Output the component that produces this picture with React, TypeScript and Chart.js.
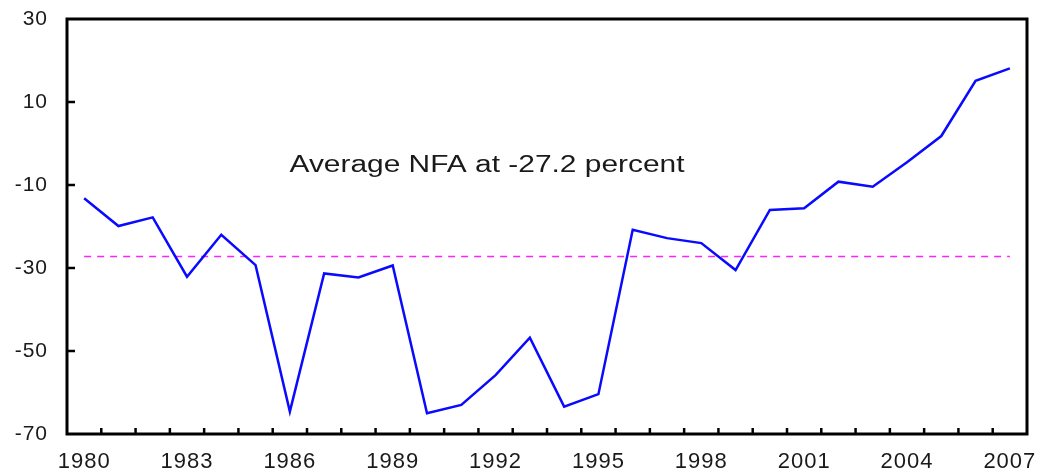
import React, { useEffect, useRef } from 'react';
import { Chart, registerables } from 'chart.js';

Chart.register(...registerables);

const YEARS = [
  '1980', '1981', '1982', '1983', '1984', '1985', '1986', '1987', '1988', '1989',
  '1990', '1991', '1992', '1993', '1994', '1995', '1996', '1997', '1998', '1999',
  '2000', '2001', '2002', '2003', '2004', '2005', '2006', '2007',
];

const NFA = [
  -13.2, -19.9, -17.8, -32.1, -22.0, -29.3, -64.6, -31.3, -32.3, -29.4,
  -65.0, -63.0, -55.8, -46.8, -63.4, -60.4, -20.8, -22.8, -24.0, -30.5,
  -16.0, -15.6, -9.2, -10.4, -4.5, 1.8, 15.1, 18.1,
];

const AVG_NFA = -27.2;
const Y_TICKS = [-70, -50, -30, -10, 10, 30];
const ANNOTATION_TEXT = 'Average NFA at -27.2 percent';
const ANNOTATION_X_INDEX = 11.75;
const ANNOTATION_Y_VALUE = -6.9;

const FONT = '"Liberation Sans", Arial, sans-serif';
const TEXT_COLOR = '#1a1a1a';

const framePlugin = {
  id: 'frameAndAnnotation',
  beforeDraw(chart: any) {
    (chart.ctx as any).letterSpacing = '1px';
  },
  afterDatasetsDraw(chart: any) {
    const { ctx, scales } = chart;
    const cx = scales.x.getPixelForValue(ANNOTATION_X_INDEX);
    const cy = scales.y.getPixelForValue(ANNOTATION_Y_VALUE);
    ctx.save();
    (ctx as any).letterSpacing = '0px';
    ctx.font = `23px ${FONT}`;
    ctx.fillStyle = TEXT_COLOR;
    ctx.textAlign = 'center';
    ctx.textBaseline = 'alphabetic';
    ctx.translate(cx, cy);
    ctx.scale(1.3, 1);
    ctx.fillText(ANNOTATION_TEXT, 0, 0);
    ctx.restore();
  },
  afterDraw(chart: any) {
    const { ctx, chartArea, scales } = chart;
    const { left, top, right, bottom } = chartArea;
    ctx.save();
    (ctx as any).letterSpacing = '0px';
    ctx.strokeStyle = '#000';
    ctx.lineWidth = 2.5;
    ctx.beginPath();
    for (let i = 1; i < YEARS.length; i++) {
      const px = scales.x.getPixelForValue(i - 0.5);
      ctx.moveTo(px, bottom);
      ctx.lineTo(px, bottom - 6);
    }
    for (const v of Y_TICKS) {
      if (v <= scales.y.min || v >= scales.y.max) continue;
      const py = scales.y.getPixelForValue(v);
      ctx.moveTo(left, py);
      ctx.lineTo(left + 8, py);
    }
    ctx.stroke();
    ctx.lineWidth = 3;
    ctx.strokeRect(left, top, right - left, bottom - top);
    ctx.restore();
    (ctx as any).letterSpacing = '0px';
  },
};

export default function App() {
  const canvasRef = useRef<HTMLCanvasElement | null>(null);

  useEffect(() => {
    if (!canvasRef.current) return;
    const chart = new Chart(canvasRef.current, {
      type: 'line',
      data: {
        labels: YEARS,
        datasets: [
          {
            label: 'NFA',
            data: NFA,
            borderColor: '#0a0aff',
            borderWidth: 2.5,
            pointRadius: 0,
            tension: 0,
            fill: false,
          },
          {
            label: 'Average',
            data: YEARS.map(() => AVG_NFA),
            borderColor: '#ff22ff',
            borderWidth: 1.5,
            borderDash: [7, 6],
            pointRadius: 0,
            fill: false,
          },
        ],
      },
      options: {
        animation: false,
        responsive: false,
        layout: { padding: { left: 0, top: 19, right: 14, bottom: 0 } },
        plugins: {
          legend: { display: false },
          tooltip: { enabled: false },
          title: { display: false },
        },
        scales: {
          x: {
            type: 'category',
            offset: true,
            grid: { display: false, drawTicks: false },
            border: { display: false },
            ticks: {
              autoSkip: false,
              maxRotation: 0,
              minRotation: 0,
              padding: 15,
              color: TEXT_COLOR,
              font: { family: FONT, size: 22 },
              callback: (_v: any, i: number) => (i % 3 === 0 ? YEARS[i] : ''),
            },
            afterFit: (scale: any) => {
              scale.height = 40;
              scale.paddingLeft = 0;
              scale.paddingRight = 0;
            },
          },
          y: {
            min: -70,
            max: 30,
            grid: { display: false, drawTicks: false },
            border: { display: false },
            afterBuildTicks: (scale: any) => {
              scale.ticks = Y_TICKS.map((v) => ({ value: v }));
            },
            ticks: {
              padding: 19,
              color: TEXT_COLOR,
              font: { family: FONT, size: 21 },
            },
            afterFit: (scale: any) => {
              scale.width = 67;
              scale.paddingTop = 0;
              scale.paddingBottom = 0;
            },
          },
        },
      },
      plugins: [framePlugin],
    });
    return () => chart.destroy();
  }, []);

  return (
    <div style={{ position: 'fixed', left: 0, top: 0, width: 1041, height: 474, background: '#fff' }}>
      <canvas ref={canvasRef} width={1041} height={474} style={{ width: 1041, height: 474, display: 'block' }} />
    </div>
  );
}
